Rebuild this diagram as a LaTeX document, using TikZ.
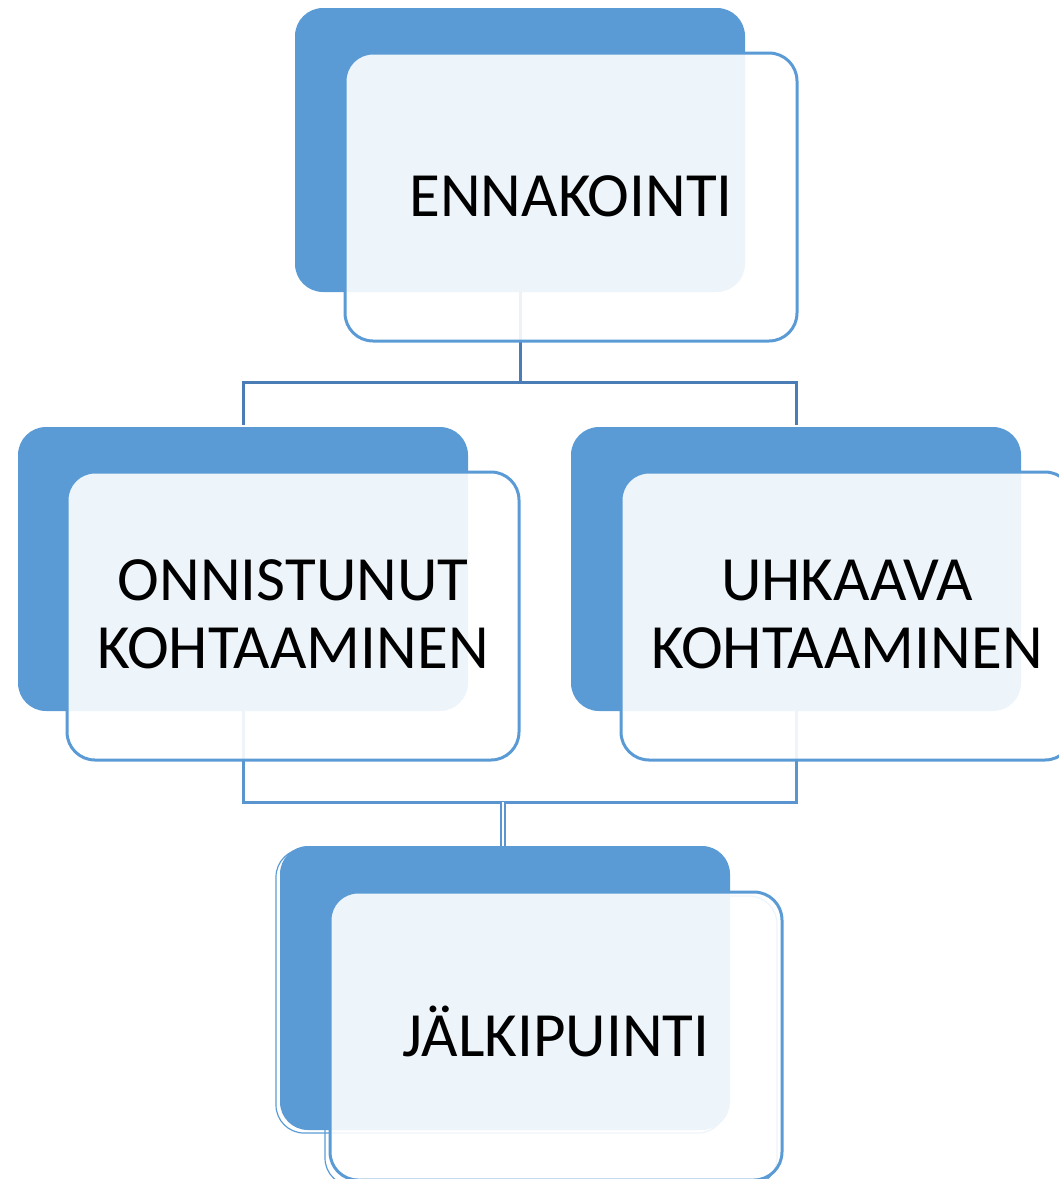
\documentclass[tikz,border=0pt]{standalone}
\usepackage{fontspec}
\setmainfont{Carlito}
\usetikzlibrary{calc}
\definecolor{dkblue}{HTML}{5B9BD5}
\definecolor{edgeblue}{HTML}{5B9BD5}
\definecolor{connA}{HTML}{4A7DB6}
\definecolor{connB}{HTML}{5A95D0}
\begin{document}
\begin{tikzpicture}[x=1pt,y=-1pt,
  back/.style={fill=dkblue, draw=none, rounded corners=28pt, minimum width=450pt, minimum height=284pt, anchor=north west, inner sep=0pt, outer sep=0pt},
  front/.style={fill=white, fill opacity=0.9, draw=edgeblue, draw opacity=1, line width=3pt, rounded corners=28pt, minimum width=452pt, minimum height=288pt, anchor=north west, inner sep=0pt, outer sep=0pt},
  ghost/.style={draw=edgeblue, line width=1.2pt, rounded corners=28pt},
  label/.style={font=\fontsize{63}{68}\selectfont, text=black, inner sep=0pt, align=center},
  connA/.style={draw=connA, line width=3pt},
  connB/.style={draw=connB, line width=3pt}
]
\useasboundingbox (0,0) rectangle (1059,1179);
\clip (0,0) rectangle (1059,1179);

% back boxes
\node[back] (b1) at (295,8) {};
\node[back] (b2) at (18,427) {};
\node[back] (b3) at (571,427) {};
\draw[ghost] (276,849) rectangle (726,1133);
\node[back] (b4) at (280,846) {};

% connectors
\coordinate (j1) at (520,382);
\coordinate (j2) at (503,802);
\draw[connA] (b1.south) -- (j1);
\draw[connA] (j1) -| ($(b2.north)+(0,-2)$);
\draw[connA] (j1) -| ($(b3.north)+(0,-2)$);
\draw[connB] (b2.south) |- (j2);
\draw[connB] (j2) -| (b3.south);
\draw[connB, double=white, double distance=2pt, line width=2pt] (j2) -- ($(j2)+(0,44)$) coordinate (j3);

% front boxes
\node[front] (f1) at (345,53) {};
\node[front] (f2) at (67,472) {};
\node[front] (f3) at (621,472) {};
\draw[ghost] (325,896) rectangle (777,1186);
\node[front] (f4) at (330,892) {};

% labels
\node[label, anchor=base] (t1) at ($(f1.center)+(0,19)$) {ENNAKOINTI};
\node[label, anchor=center] (t2) at ($(f2.center)+(0,-2)$) {ONNISTUNUT\\KOHTAAMINEN};
\node[label, anchor=center] (t3) at ($(f3.center)+(0,-2)$) {UHKAAVA\\KOHTAAMINEN};
\node[label, anchor=base] (t4) at ($(f4.center)+(0,20)$) {JÄLKIPUINTI};
\end{tikzpicture}
\end{document}
